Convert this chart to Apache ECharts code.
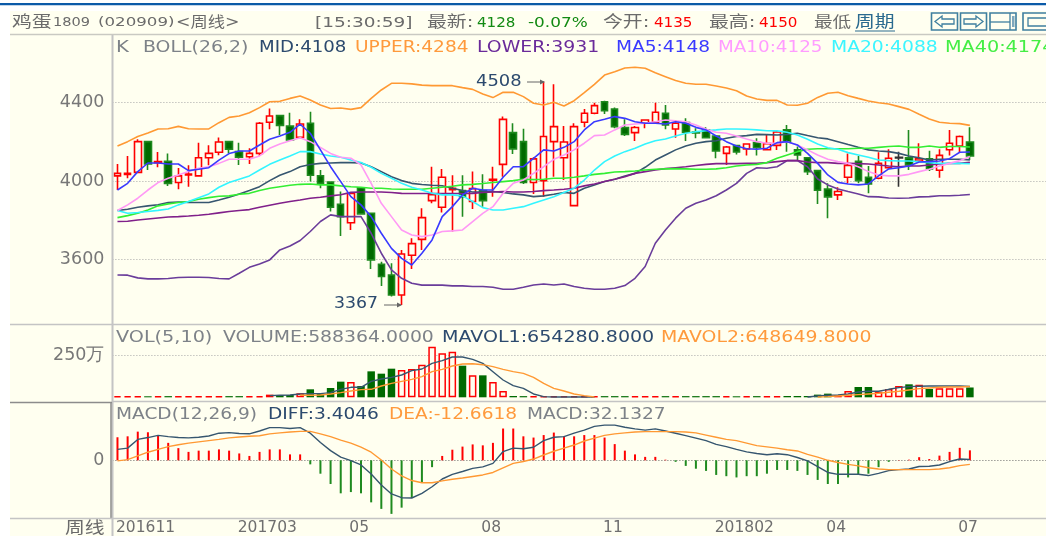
<!DOCTYPE html>
<html>
<head>
<meta charset="utf-8">
<title>鸡蛋1809 周线</title>
<script src="https://cdn.jsdelivr.net/npm/echarts@6/dist/echarts.min.js"></script>
<style>
  html, body { margin: 0; padding: 0; background: #fff; overflow: hidden; }
  #chart { width: 1046px; height: 536px; filter: blur(0.4px); }
</style>
</head>
<body>
<div id="chart"></div>
<script>
// open, close, low, high, one row per week
const candles = [
  [4026,4039,3954,4087],[4033,4039,4014,4128],[4044,4201,4039,4213],[4201,4087,4056,4206],[4094,4099,4070,4148],
  [4101,3988,3975,4141],[3992,4026,3958,4067],[4031,4036,3971,4080],[4026,4119,4022,4196],[4119,4141,4080,4182],
  [4147,4199,4131,4222],[4201,4162,4141,4201],[4150,4121,4082,4196],[4124,4141,4087,4167],[4141,4295,4128,4302],
  [4300,4332,4264,4370],[4334,4284,4235,4334],[4281,4210,4210,4349],[4223,4291,4218,4315],[4295,4029,3997,4354],
  [4027,3988,3963,4056],[3995,3866,3844,3995],[3881,3818,3719,3946],[3787,3937,3750,3937],[3965,3832,3827,3965],
  [3835,3597,3551,3835],[3575,3512,3464,3588],[3520,3418,3410,3580],[3418,3627,3367,3648],[3621,3680,3551,3707],
  [3702,3813,3648,3861],[3900,3930,3886,4073],[3866,4019,3839,4061],[3956,3963,3742,4029],[3951,3920,3818,4029],
  [3895,3961,3857,4048],[3951,3900,3869,4034],[4004,4009,3920,4073],[4085,4315,4022,4329],[4247,4164,4138,4295],
  [4201,3992,3985,4267],[3992,4113,3934,4121],[4002,4227,3920,4508],[4201,4278,4022,4494],[4119,4199,4005,4281],
  [3874,4278,3874,4295],[4300,4346,4274,4368],[4346,4385,4341,4400],[4405,4359,4342,4410],[4368,4278,4269,4375],
  [4273,4238,4230,4315],[4247,4273,4204,4281],[4295,4312,4269,4315],[4300,4351,4295,4400],[4346,4286,4264,4388],
  [4266,4295,4221,4312],[4298,4249,4204,4320],[4250,4245,4218,4269],[4261,4221,4218,4274],[4230,4153,4116,4235],
  [4141,4174,4082,4179],[4181,4148,4136,4184],[4164,4189,4130,4193],[4196,4170,4130,4218],[4160,4191,4159,4238],
  [4182,4250,4159,4256],[4261,4198,4150,4286],[4159,4133,4107,4176],[4119,4048,4031,4119],[4053,3953,3883,4053],
  [3959,3919,3810,3988],[3929,3946,3903,3968],[4019,4080,3988,4141],[4101,4002,3988,4128],[4019,3985,3937,4077],
  [4014,4090,4009,4147],[4068,4116,4062,4162],[4118,4121,3971,4150],[4118,4082,4056,4261],[4102,4113,4099,4193],
  [4114,4062,4051,4155],[4055,4131,4017,4162],[4160,4193,4130,4261],[4179,4227,4145,4232],[4199,4128,4107,4274]
];
const upper = [
  4179,4201,4227,4245,4266,4267,4279,4267,4266,4266,4298,4325,4332,4349,4375,4405,4407,4422,4434,4414,4388,4370,4373,
  4366,4375,4422,4465,4499,4499,4496,4490,4487,4487,4487,4477,4468,4444,4426,4453,4453,4431,4397,4388,4402,4383,
  4410,4451,4494,4541,4558,4577,4581,4576,4553,4533,4513,4499,4494,4494,4485,4475,4461,4434,4419,4412,4412,4388,4387,
  4397,4427,4448,4453,4436,4422,4409,4400,4393,4380,4366,4341,4317,4300,4295,4293,4284
];
const mid = [
  3849,3856,3866,3873,3879,3890,3893,3891,3890,3890,3903,3917,3934,3951,3971,4002,4029,4048,4073,4084,4090,4092,4094,
  4094,4092,4073,4048,4022,4002,3988,3982,3978,3976,3963,3951,3944,3944,3946,3941,3934,3929,3920,3924,3932,3941,
  3937,3963,3980,3997,4009,4026,4039,4070,4107,4133,4159,4179,4193,4201,4206,4218,4227,4232,4238,4237,4235,4238,4244,
  4232,4221,4215,4201,4186,4172,4159,4153,4150,4141,4128,4118,4107,4111,4111,4111,4108
];
const lower = [
  3520,3519,3505,3500,3500,3502,3507,3508,3508,3507,3502,3500,3529,3559,3576,3597,3648,3668,3696,3742,3793,3827,3818,
  3818,3818,3733,3631,3546,3503,3478,3468,3468,3468,3464,3464,3461,3461,3457,3447,3447,3457,3469,3474,3469,3474,
  3461,3452,3447,3447,3452,3466,3503,3563,3682,3750,3810,3861,3886,3903,3925,3954,3988,4039,4068,4065,4073,4104,4104,
  4073,4010,3980,3959,3946,3934,3920,3919,3913,3912,3913,3919,3920,3925,3925,3927,3931
];
const ma5 = [
  3954,3988,4048,4092,4092,4087,4087,4053,4060,4068,4107,4140,4153,4153,4184,4213,4230,4249,4290,4244,4159,4073,3997,
  3920,3878,3818,3733,3656,3605,3571,3631,3699,3818,3869,3929,3963,3954,3954,4019,4073,4073,4116,4159,4153,4172,
  4201,4261,4303,4315,4329,4320,4303,4295,4295,4291,4303,4295,4274,4261,4230,4201,4179,4165,4162,4167,4196,4201,4184,
  4141,4090,4031,3993,3985,3980,3985,4026,4062,4068,4077,4097,4099,4102,4114,4147,4148
];
const ma10 = [
  3849,3878,3912,3954,3992,4014,4031,4048,4065,4073,4090,4111,4111,4111,4128,4167,4189,4206,4221,4201,4172,4141,4121,
  4116,4082,3988,3886,3818,3750,3724,3716,3724,3742,3745,3750,3793,3835,3869,3937,3988,4005,4039,4073,4111,4133,
  4159,4193,4232,4235,4261,4286,4291,4295,4303,4312,4307,4303,4286,4264,4249,4244,4230,4215,4201,4193,4193,4201,4184,
  4159,4133,4111,4099,4090,4073,4048,4031,4026,4026,4034,4048,4060,4077,4090,4104,4125
];
const ma20 = [
  3849,3835,3839,3844,3850,3857,3878,3895,3915,3934,3968,3992,4009,4026,4056,4085,4107,4128,4150,4150,4138,4128,4121,
  4107,4094,4070,4039,4014,3988,3968,3954,3937,3929,3929,3924,3895,3864,3852,3852,3861,3869,3886,3903,3920,3941,
  3963,4005,4056,4099,4128,4150,4167,4189,4206,4215,4230,4244,4252,4257,4261,4266,4266,4264,4261,4257,4256,4249,4235,
  4213,4189,4170,4162,4145,4133,4121,4107,4104,4102,4102,4099,4094,4090,4090,4090,4088
];
const ma40 = [
  3813,3823,3835,3852,3873,3883,3890,3895,3907,3915,3922,3924,3932,3937,3951,3963,3971,3978,3983,3985,3980,3980,3975,
  3971,3968,3963,3963,3959,3958,3958,3958,3963,3968,3973,3980,3983,3987,3992,3997,4002,4009,4007,4009,4014,4014,
  4019,4026,4034,4039,4046,4048,4051,4056,4060,4062,4063,4062,4060,4060,4062,4068,4077,4082,4085,4094,4116,4133,4150,
  4162,4165,4165,4165,4165,4167,4167,4172,4176,4179,4172,4172,4179,4172,4176,4176,4174
];
const ma60 = [
  3793,3794,3801,3806,3811,3816,3818,3821,3825,3830,3837,3844,3849,3854,3866,3876,3886,3895,3903,3912,3917,3924,3930,
  3942,3944,3944,3944,3941,3937,3936,3936,3936,3936,3936,3936,3937,3941,3944,3946,3944,3944,3946,3951,3954,3958,
  3963,3975,3985,3997,4009,4022,4039,4048,4056,4063,4068,4073,4079,4085,4089,4089,4089,4090,4090,4094,4099,4104,4104,
  4097,4094,4094,4090,4090,4089,4087,4082,4077,4073,4077,4077,4082,4087,4090,4090,4096
];
// volume in 万 lots
const volume = [
  7,7,7,6,7,7,6,7,7,7,6,7,7,7,8,
  16,14,14,24,48,20,56,94,92,68,156,142,172,164,170,196,304,264,274,190,132,132,92,38,8,
  7,7,7,8,7,7,7,6,7,7,7,7,6,7,7,6,7,7,7,7,7,6,7,7,7,7,8,8,8,
  16,22,14,38,62,62,34,50,68,78,76,50,54,54,54,59
];
// the MA lines cannot be seen where they sit under the flat stretches
const mavol1 = [
  null,null,null,null,null,null,null,null,null,null,null,null,null,null,null,
  10,12,14,20,22,22,28,48,60,60,96,110,120,134,160,170,204,220,242,242,228,204,154,104,70,54,20,4,
  2,2,2,2,2,null,null,null,null,null,null,null,null,null,null,null,null,null,null,null,null,null,null,null,null,
  2,8,12,14,20,32,36,36,48,58,64,66,68,68,68,68,65
];
const mavol2 = [
  null,null,null,null,null,null,null,null,null,null,null,null,null,null,null,null,null,null,
  12,12,14,20,28,38,46,48,68,84,96,108,124,154,168,188,200,202,196,184,168,154,144,120,84,54,38,20,10,2,
  null,null,null,null,null,null,null,null,null,null,null,null,null,null,null,null,null,null,null,null,null,2,
  4,8,12,16,20,24,30,36,44,52,56,60,62,62,65
];
const macd = [
  74,77,92,90,80,56,39,27,31,31,35,31,22,14,27,35,35,19,19,-13,-43,-76,-106,-102,-106,-135,-156,-172,-152,-121,-72,-22,14,34,44,51,48,56,102,102,
  77,73,81,89,77,77,81,81,73,52,31,19,11,11,2,-5,-18,-27,-34,-47,-51,-55,-51,-51,-43,-31,-31,-34,-47,-63,-76,-76,-55,-47,-43,-22,-5,1,2,10,4,15,27,40,32
];
const diff = [
  35,39,67,73,80,76,73,72,74,78,87,89,86,85,94,105,105,102,105,87,57,31,10,-1,-15,-44,-79,-108,-120,-121,-106,-85,-60,-45,-36,-26,-21,-10,28,39,
  37,42,63,74,76,87,97,109,113,113,106,101,97,101,94,87,79,71,63,51,44,35,27,22,18,21,18,9,-2,-20,-39,-45,-45,-45,-49,-42,-33,-30,-28,-20,-19,-15,-4,4,3
];
const dea = [
  -2,2,14,26,35,44,50,55,59,63,67,72,75,77,79,85,88,91,93,93,85,76,65,55,42,26,1,-28,-50,-65,-72,-72,-66,-61,-57,-52,-47,-39,-24,-10,
  -4,4,17,29,39,49,62,71,80,85,88,91,92,92,92,92,91,88,81,74,67,63,55,47,43,39,34,30,19,10,0,-7,-13,-18,-24,-28,-30,-30,-30,-30,-30,-28,-24,-17,-13
];
const tickIndex = [0, 12, 23, 36, 48, 59, 70, 83];
const tickText = ['201611', '201703', '05', '08', '11', '201802', '04', '07'];
const slotCount = 92; // the axis keeps empty room right of the last week
const blackWeek = 77;

const categories = Array.from({ length: slotCount }, (_, i) => {
  const at = tickIndex.indexOf(i);
  return at >= 0 ? tickText[at] : '';
});

const BG = '#fffff0';
const RED = '#ff0000';
const DARK_GREEN = '#006a00';
const LINE_GREEN = '#1f8a1f';
const NAVY = '#2c4a6e';
const ORANGE = '#ff9a3c';
const GREY_TEXT = '#7d8288';

const isUp = (c) => c[1] >= c[0];

const chart = echarts.init(document.getElementById('chart'));

const lineSeries = (name, data, color, axisIndex, width) => ({
  name,
  type: 'line',
  data,
  xAxisIndex: axisIndex,
  yAxisIndex: axisIndex,
  symbol: 'none',
  animation: false,
  lineStyle: { color, width: width || 1.6 },
  z: 5
});

const label = (text, x, y, fill, size, scaleX) => ({
  type: 'text',
  x,
  y,
  scaleX: scaleX || 1,
  z: 50,
  style: {
    text,
    fill,
    font: size + 'px "DejaVu Sans", "Noto Sans CJK SC", sans-serif',
    textVerticalAlign: 'middle'
  }
});

const box = (x, y, w, h, fill, z) => ({
  type: 'rect',
  shape: { x, y, width: w, height: h },
  style: { fill },
  silent: true,
  z: z === undefined ? 1 : z
});

const rule = (x1, y1, x2, y2, stroke, w) => ({
  type: 'line',
  shape: { x1, y1, x2, y2 },
  style: { stroke, lineWidth: w },
  silent: true,
  z: 40
});

const iconBox = (x, w) => ({
  type: 'rect',
  shape: { x, y: 13, width: w, height: 17 },
  style: { fill: 'none', stroke: '#3f7f9f', lineWidth: 1.6 },
  silent: true,
  z: 40
});

const arrowIcon = (points) => ({
  type: 'polygon',
  shape: { points },
  style: { fill: 'none', stroke: '#3f7f9f', lineWidth: 1.3 },
  silent: true,
  z: 40
});

const pointer = (x2, y) => ({
  type: 'polygon',
  shape: { points: [[x2 - 5, y - 2.5], [x2, y], [x2 - 5, y + 2.5]] },
  style: { fill: '#666' },
  silent: true,
  z: 40
});

const graphicItems = [
  // frame
  box(0, 3, 1046, 2.2, '#0a5aa8', 0),
  box(10, 11, 1036, 525, BG, -10),
  rule(10, 34.5, 1046, 34.5, '#c9c9c2', 1.5),
  rule(112.5, 35, 112.5, 536, '#c4c4c4', 2),
  rule(10, 324.5, 1046, 324.5, '#c4c4c4', 1.5),
  rule(112, 401.5, 1046, 401.5, '#c4c4c4', 1.5),
  rule(10, 402.5, 112, 402.5, '#8c8c8c', 1.5),
  rule(111, 402.5, 111, 518, '#8c8c8c', 1.5),
  rule(10, 518.5, 1046, 518.5, '#c4c4c4', 1.5),

  // quote row
  label('鸡蛋', 12, 23, '#6b6b6b', 16, 1.24),
  label('1809', 53, 23, '#6b6b6b', 13, 1.12),
  label('(020909)', 98, 23, '#6b6b6b', 13, 1.28),
  label('<周线>', 176, 23, '#6b6b6b', 15, 1.15),
  label('[15:30:59]', 315, 23, '#6b6b6b', 13.5, 1.37),
  label('最新:', 427, 23, '#6b6b6b', 16, 1.24),
  label('4128', 477, 23, '#128a12', 13.5, 1.12),
  label('-0.07%', 528, 23, '#128a12', 13.5, 1.25),
  label('今开:', 603, 23, '#6b6b6b', 16, 1.24),
  label('4135', 654, 23, RED, 13.5, 1.12),
  label('最高:', 709, 23, '#6b6b6b', 16, 1.24),
  label('4150', 759, 23, RED, 13.5, 1.12),
  label('最低', 814, 23, '#6b6b6b', 15, 1.24),
  label('周期', 855, 23, '#2a6a8f', 16, 1.24),
  rule(855, 31, 895, 31, '#2a6a8f', 1),

  // toolbar icons
  iconBox(931.5, 26),
  iconBox(960.5, 26),
  iconBox(990, 26),
  iconBox(1023, 30),
  arrowIcon([[935, 21.5], [942, 16], [942, 19], [954, 19], [954, 24], [942, 24], [942, 27]]),
  arrowIcon([[983, 21.5], [976, 16], [976, 19], [964, 19], [964, 24], [976, 24], [976, 27]]),
  rule(990, 22, 1010, 22, '#3f7f9f', 1.3),
  rule(1010, 13, 1010, 30, '#3f7f9f', 1.3),
  box(1012, 16, 2.5, 11, '#7fa8bd', 40),
  { type: 'rect', shape: { x: 1028, y: 18, width: 20, height: 8 }, style: { fill: 'none', stroke: '#3f7f9f', lineWidth: 1.3 }, silent: true, z: 40 },

  // main panel header
  label('K', 116, 48, GREY_TEXT, 16, 1.23),
  label('BOLL(26,2)', 143, 48, GREY_TEXT, 16, 1.18),
  label('MID:4108', 259, 48, NAVY, 16, 1.135),
  label('UPPER:4284', 355, 48, ORANGE, 16, 1.16),
  label('LOWER:3931', 477, 48, '#6a2a9a', 16, 1.18),
  label('MA5:4148', 616, 48, '#3a3aff', 16, 1.16),
  label('MA10:4125', 718, 48, '#ff9cff', 16, 1.145),
  label('MA20:4088', 831, 48, '#3cf5ff', 16, 1.17),
  label('MA40:4174', 945, 48, '#44ee44', 16, 1.2),

  // extreme price notes
  label('4508', 476, 82, NAVY, 16, 1.12),
  rule(527, 82, 544, 82, '#666', 1),
  pointer(545, 82),
  label('3367', 334, 304, NAVY, 16, 1.08),
  rule(384, 305, 401, 305, '#666', 1),
  pointer(402, 305),

  // volume header
  label('VOL(5,10)', 116, 338, GREY_TEXT, 16, 1.2),
  label('VOLUME:588364.0000', 223, 338, GREY_TEXT, 16, 1.176),
  label('MAVOL1:654280.8000', 442, 338, NAVY, 16, 1.19),
  label('MAVOL2:648649.8000', 661, 338, ORANGE, 16, 1.18),

  // macd header
  label('MACD(12,26,9)', 116, 415, GREY_TEXT, 16, 1.16),
  label('DIFF:3.4046', 268, 415, NAVY, 16, 1.16),
  label('DEA:-12.6618', 389, 415, ORANGE, 16, 1.16),
  label('MACD:32.1327', 527, 415, GREY_TEXT, 16, 1.16),

  label('周线', 65, 529, '#6b6b6b', 16, 1.24)
];

const gridLine = { show: true, lineStyle: { color: '#a8a8a8', type: [1, 2], width: 1 }, showMinLine: false, showMaxLine: false };
const yLabel = {
  color: '#777',
  fontSize: 17.5,
  fontFamily: '"DejaVu Sans", sans-serif',
  margin: 8,
  showMinLabel: false,
  showMaxLabel: false,
  formatter: (v) => String(v)
};

const xBase = {
  type: 'category',
  data: categories,
  boundaryGap: true,
  axisLine: { show: false },
  axisTick: { show: false }
};

const yBase = {
  type: 'value',
  position: 'left',
  axisLine: { show: false },
  axisTick: { show: false },
  splitLine: gridLine
};

chart.setOption({
  animation: false,
  backgroundColor: 'transparent',
  graphic: { elements: graphicItems },
  grid: [
    { left: 112.4, width: 938.4, top: 24.4, height: 313.2 },
    { left: 112.4, width: 938.4, top: 314.1, height: 83.2 },
    { left: 112.4, width: 938.4, top: 398, height: 124.6 }
  ],
  xAxis: [
    { ...xBase, gridIndex: 0, axisLabel: { show: false } },
    { ...xBase, gridIndex: 1, axisLabel: { show: false } },
    {
      ...xBase,
      gridIndex: 2,
      offset: -3,
      axisLabel: {
        show: true,
        interval: 0,
        align: 'left',
        margin: 0,
        padding: [0, 0, 0, -1.5],
        color: '#6f6f6f',
        fontSize: 15.5,
        fontFamily: '"DejaVu Sans", sans-serif'
      }
    }
  ],
  yAxis: [
    { ...yBase, gridIndex: 0, min: 3200, max: 4800, interval: 400, axisLabel: yLabel },
    {
      ...yBase,
      gridIndex: 1,
      min: 0,
      max: 500,
      interval: 250,
      axisLabel: { ...yLabel, formatter: (v) => v + '万' }
    },
    {
      ...yBase,
      gridIndex: 2,
      min: -200,
      max: 200,
      interval: 200,
      splitLine: { ...gridLine, lineStyle: { color: '#6a6a6a', type: [1, 2], width: 1 } },
      axisLabel: yLabel
    }
  ],
  series: [
    {
      name: 'K',
      type: 'candlestick',
      xAxisIndex: 0,
      yAxisIndex: 0,
      barWidth: 7,
      z: 3,
      itemStyle: {
        color: BG,
        color0: DARK_GREEN,
        borderColor: RED,
        borderColor0: LINE_GREEN,
        borderWidth: 1.6
      },
      data: candles.map((c, i) => i === blackWeek
        ? { value: c, itemStyle: { color: '#333', borderColor: '#333' } }
        : c)
    },
    lineSeries('UPPER', upper, '#ff9933', 0),
    lineSeries('MID', mid, '#36566f', 0),
    lineSeries('LOWER', lower, '#6a3d9a', 0),
    lineSeries('MA60', ma60, '#80208a', 0),
    lineSeries('MA40', ma40, '#33ee33', 0),
    lineSeries('MA20', ma20, '#33f5ff', 0),
    lineSeries('MA10', ma10, '#ff99f5', 0),
    lineSeries('MA5', ma5, '#3a3aff', 0),
    {
      name: 'VOLUME',
      type: 'bar',
      xAxisIndex: 1,
      yAxisIndex: 1,
      barWidth: 7.5,
      z: 3,
      data: volume.map((v, i) => ({
        value: v,
        itemStyle: isUp(candles[i])
          ? { color: BG, borderColor: RED, borderWidth: 1.5 }
          : { color: DARK_GREEN }
      }))
    },
    lineSeries('MAVOL1', mavol1, '#36566f', 1, 1.4),
    lineSeries('MAVOL2', mavol2, '#ff9933', 1, 1.4),
    {
      name: 'MACD',
      type: 'bar',
      xAxisIndex: 2,
      yAxisIndex: 2,
      barWidth: 2,
      z: 3,
      data: macd.map((v) => ({
        value: v,
        itemStyle: { color: v >= 0 ? RED : LINE_GREEN }
      }))
    },
    lineSeries('DIFF', diff, '#36566f', 2, 1.4),
    lineSeries('DEA', dea, '#ff9933', 2, 1.4)
  ]
});
</script>
</body>
</html>
